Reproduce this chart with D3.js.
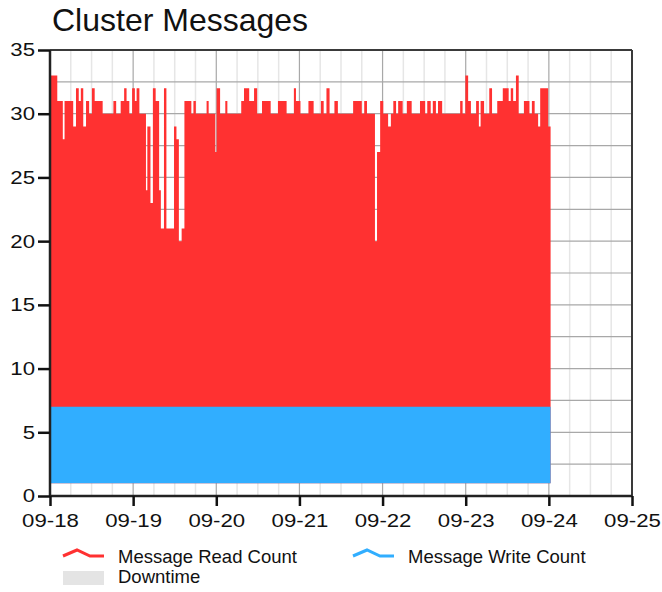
<!DOCTYPE html>
<html><head><meta charset="utf-8">
<script src="https://cdn.jsdelivr.net/npm/d3@7"></script>
<style>
body{margin:0;background:#fff;}
svg{display:block;font-family:"Liberation Sans",Arial,Helvetica,sans-serif;}
</style>
</head><body>
<svg id="chart" width="662" height="592"></svg>
<script>
// ---- data (hours since 09-18 00:00 -> value, step series) ----
const startDay = [2024, 8, 18];
const endDay = [2024, 8, 25];
const readHours = [0,2.1,3.7,4.2,6.7,7.5,8.3,8.9,9.6,10.4,11.3,12.1,12.9,15.2,18.3,19.1,20.4,21.4,22.1,22.9,23.7,24.5,25.0,25.8,27.7,28.1,29.0,29.7,30.5,31.5,32.0,32.9,33.6,35.8,36.5,37.2,38.0,38.8,40.8,41.4,42.1,45.2,45.8,47.7,48.1,49.1,50.6,51.2,55.2,56.0,57.5,58.9,59.8,61.2,63.7,65.8,68.3,70.4,71.0,72.3,74.6,76.1,78.2,79.0,79.8,80.7,82.1,83.1,87.5,90.0,90.7,91.5,93.8,94.4,95.3,96.2,97.6,98.4,99.1,99.9,100.5,101.8,103.0,104.4,106.8,108.3,108.9,109.9,110.5,111.4,112.0,113.2,118.4,119.1,119.9,120.7,121.5,123.0,123.8,124.3,125.3,126.8,127.6,129.1,130.7,132.4,133.0,133.7,134.5,135.3,136.8,138.4,139.1,139.9,140.9,141.5,143.8,144.5];
const readValues = [33,31,28,31,29,32,31,32,29,31,30,32,31,30,31,30,31,32,31,30,32,31,32,30,24,29,23,32,31,24,21,32,21,29,28,20,21,31,30,31,30,31,30,27,32,30,31,30,31,32,31,32,30,31,30,31,30,32,31,30,31,30,31,30,32,30,31,30,31,30,31,30,20,27,31,30,29,30,31,30,31,30,31,30,31,30,31,30,31,30,31,30,31,30,33,31,30,31,29,31,30,32,30,31,32,31,32,31,33,30,31,30,31,30,29,32,29,29];
const writeHours = [0,144.5];
const writeValues = [7,7];
const baseValue = 1;
const yTickValues = [0,5,10,15,20,25,30,35];
const yGridValues = [2.5,5,7.5,10,12.5,15,17.5,20,22.5,25,27.5,30,32.5];
const titleText = "Cluster Messages";
const seriesNames = ["Message Read Count","Message Write Count","Downtime"];
const seriesColors = ["#ff3131","#31aeff","#e4e4e4"];

// ---- layout ----
const svg = d3.select("#chart");
const M = {left:50, top:50, right:30, bottom:96};
const W = 662 - M.left - M.right, H = 592 - M.top - M.bottom;
const t0 = new Date(...startDay), t1 = new Date(...endDay);
const toDate = h => new Date(t0.getTime() + h*3600000);

const x = d3.scaleTime().domain([t0, t1]).range([0, W]);
const y = d3.scaleLinear().domain([0, 35]).range([H, 0]);

svg.append("text").attr("x", 52).attr("y", 31).attr("font-size", 32).attr("fill", "#111").text(titleText);

const g = svg.append("g").attr("transform", `translate(${M.left},${M.top})`);

// minor vertical grid (6h)
g.append("g").selectAll("line").data(x.ticks(d3.timeHour.every(6)).filter(d => d.getHours() !== 0))
  .join("line").attr("x1", d => x(d)).attr("x2", d => x(d)).attr("y1", 0).attr("y2", H)
  .attr("stroke", "#e6e6e6").attr("stroke-width", 1.5);
// horizontal grid
g.append("g").selectAll("line").data(yGridValues)
  .join("line").attr("x1", 0).attr("x2", W).attr("y1", d => y(d)).attr("y2", d => y(d))
  .attr("stroke", "#a8a8a8").attr("stroke-width", 1.2);
// major vertical grid
g.append("g").selectAll("line").data(x.ticks(d3.timeDay.every(1)))
  .join("line").attr("x1", d => x(d)).attr("x2", d => x(d)).attr("y1", 0).attr("y2", H)
  .attr("stroke", "#a8a8a8").attr("stroke-width", 1.2);

// series
const readData = readHours.map((h, i) => ({t: toDate(h), v: readValues[i]}));
const writeData = writeHours.map((h, i) => ({t: toDate(h), v: writeValues[i]}));
const area = d3.area().curve(d3.curveStepAfter).x(d => x(d.t)).y0(y(baseValue)).y1(d => y(d.v));
g.append("path").datum(readData).attr("d", area).attr("fill", seriesColors[0]);
g.append("path").datum(writeData).attr("d", area).attr("fill", seriesColors[1]);

// frame top/right
g.append("line").attr("x1", 0).attr("x2", W).attr("y1", 0).attr("y2", 0).attr("stroke", "#3a3a3a").attr("stroke-width", 2);
g.append("line").attr("x1", W).attr("x2", W).attr("y1", 0).attr("y2", H).attr("stroke", "#3a3a3a").attr("stroke-width", 2);

// axes
const stretch = sel => sel.selectAll(".tick text").each(function(){
  const n = this.getComputedTextLength();
  d3.select(this).attr("textLength", n*1.2).attr("lengthAdjust", "spacingAndGlyphs");
});
const xAxis = g.append("g").attr("transform", `translate(0,${H})`)
  .call(d3.axisBottom(x).ticks(d3.timeDay.every(1)).tickFormat(d3.timeFormat("%m-%d")).tickSize(10).tickPadding(8));
const yAxis = g.append("g")
  .call(d3.axisLeft(y).tickValues(yTickValues).tickSize(12).tickPadding(3));
[xAxis, yAxis].forEach(a => {
  a.select(".domain").attr("stroke", "#222").attr("stroke-width", 2.5);
  a.selectAll(".tick line").attr("stroke", "#111").attr("stroke-width", 2.5);
  a.selectAll(".tick text").attr("font-size", 18.5).attr("fill", "#111").attr("font-family", "'Liberation Sans',Arial,sans-serif");
  stretch(a);
});
xAxis.select(".domain").attr("d", `M0,0H${W}`);
yAxis.select(".domain").attr("d", `M0,${H}V0`);

// legend
const lg = svg.append("g").attr("font-size", 18.5).attr("fill", "#111");
const icon = (x0, yb, col) => lg.append("path")
  .attr("d", d3.line()([[x0, yb], [x0+14, yb-6], [x0+27, yb], [x0+41, yb]]))
  .attr("fill", "none").attr("stroke", col).attr("stroke-width", 3);
icon(63, 556, seriesColors[0]);
lg.append("text").attr("x", 118).attr("y", 563).text(seriesNames[0]);
icon(353, 556, seriesColors[1]);
lg.append("text").attr("x", 408).attr("y", 563).text(seriesNames[1]);
lg.append("rect").attr("x", 63).attr("y", 571).attr("width", 41).attr("height", 14).attr("fill", seriesColors[2]);
lg.append("text").attr("x", 118).attr("y", 583).text(seriesNames[2]);
</script>
</body></html>
